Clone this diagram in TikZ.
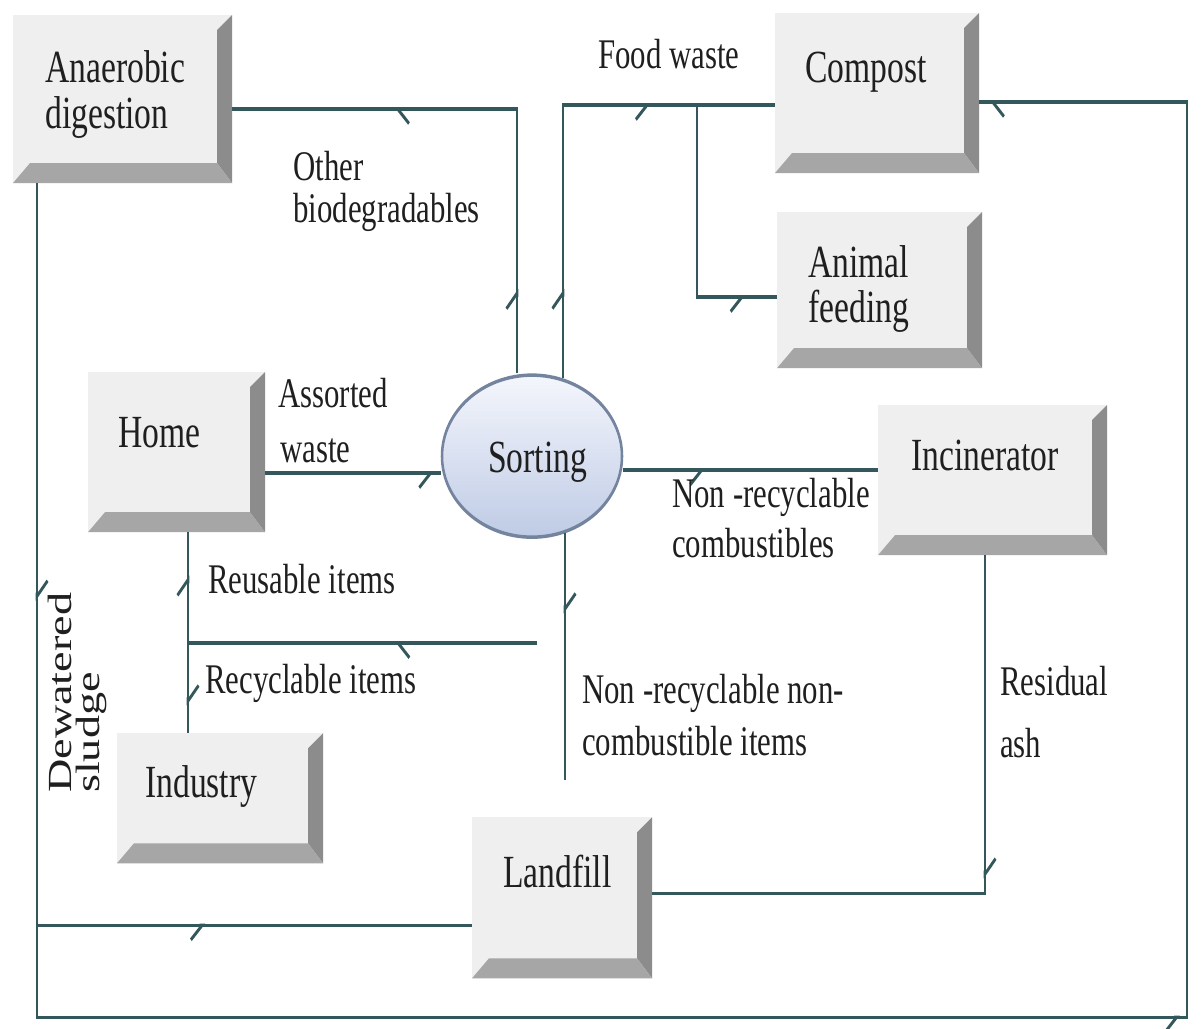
\documentclass[tikz,border=0pt]{standalone}
\usepackage{fontspec}
\setmainfont{Liberation Serif}
\usetikzlibrary{shapes.geometric,decorations.markings,arrows.meta}

\definecolor{face}{HTML}{EFEFEF}
\definecolor{bevR}{HTML}{8C8C8C}
\definecolor{bevB}{HTML}{A6A6A6}
\definecolor{conn}{HTML}{33575B}
\definecolor{ink}{HTML}{1F1F1F}
\definecolor{sortTop}{HTML}{F4F6FC}
\definecolor{sortBot}{HTML}{BFCBE5}
\definecolor{sortEdge}{HTML}{74849F}

% horizontal and vertical pixel units of the drawing
\newcommand\pxu{0.025cm}
\newcommand\pyu{0.018248cm}

\begin{document}
\begin{tikzpicture}[x=0.025cm,y=-0.025cm]
\path[use as bounding box, fill=white] (0,0) rectangle (1203,1028);

\begin{scope}[y=-0.018248cm, transform canvas={yscale=1.37},
  btn/.style={rectangle, inner sep=0pt, outer sep=0pt, fill=face,
    path picture={
      \fill[bevR] (path picture bounding box.north east)
        -- (path picture bounding box.south east)
        -- ([shift={(-15,-20)}]path picture bounding box.south east)
        -- ([shift={(-15,15)}]path picture bounding box.north east) -- cycle;
      \fill[bevB] (path picture bounding box.south west)
        -- (path picture bounding box.south east)
        -- ([shift={(-15,-20)}]path picture bounding box.south east)
        -- ([shift={(17,-20)}]path picture bounding box.south west) -- cycle;
    }},
  sortnode/.style={ellipse, draw=sortEdge, line width=1.8pt,
    top color=sortTop, bottom color=sortBot, inner sep=0pt,
    minimum width=180*\pxu, minimum height=162*\pyu},
  boxtxt/.style={font=\fontsize{23.9}{28}\selectfont, text=ink,
    inner sep=0pt, anchor=base west},
  lbl/.style={font=\fontsize{21.9}{26}\selectfont, text=ink,
    inner sep=0pt, anchor=base west},
  conn/.style={draw=conn, line width=1.8pt},
  barbA/.tip={Straight Barb[harpoon, length=8pt, width=15pt]},
  barbB/.tip={Straight Barb[harpoon, swap, length=8pt, width=15pt]},
  arrs/.style={postaction={decorate}, decoration={markings, #1}}
]

% boxes
\node[btn, minimum width=219*\pxu, minimum height=168*\pyu] (ad) at (122.5,99) {};
\node[btn, minimum width=204*\pxu, minimum height=160*\pyu] (compost) at (877,93) {};
\node[btn, minimum width=205*\pxu, minimum height=156*\pyu] (af) at (879.5,290) {};
\node[btn, minimum width=177*\pxu, minimum height=160*\pyu] (home) at (176.5,452) {};
\node[btn, minimum width=229*\pxu, minimum height=150*\pyu] (inc) at (992.5,480) {};
\node[btn, minimum width=206*\pxu, minimum height=130*\pyu] (ind) at (220,798) {};
\node[btn, minimum width=180*\pxu, minimum height=161*\pyu] (land) at (562,897.5) {};
\node[sortnode] (sort) at (532,456) {};

% box texts
\node[boxtxt] (adT1) at (45,82) {Anaerobic};
\node[boxtxt] (adT2) at (45,128) {digestion};
\node[boxtxt] (cmT) at (805,82) {Compost};
\node[boxtxt] (afT1) at (808,277) {Animal};
\node[boxtxt] (afT2) at (808,322) {feeding};
\node[boxtxt] (hmT) at (118,447) {Home};
\node[boxtxt] (inT) at (911,470) {Incinerator};
\node[boxtxt] (idT) at (145,797) {Industry};
\node[boxtxt] (lfT) at (503,887) {Landfill};
\node[boxtxt] (soT) at (488,472) {Sorting};

% junctions and free ends
\coordinate (fork) at ([xshift=-78*\pxu, yshift=-12*\pyu]compost.west);
\coordinate (rrS) at (537,643);
\coordinate (split) at (188,643);
\coordinate (nrEnd) at (565,780);
\coordinate (sj) at (37,925);
\coordinate (rc) at (1187,1017);
\coordinate (hwOut) at ([yshift=-21*\pyu]home.east);
\coordinate (incIn) at ([yshift=10*\pyu]inc.west);
\coordinate (cmpIn) at ([yshift=-9*\pyu]compost.east);

% connectors
\draw[conn, arrs={mark=at position 0.129 with {\arrow{barbA}},
                  mark=at position 0.660 with {\arrow{barbA}}}]
  ([xshift=-15*\pxu]sort.north) |- ([yshift=-10*\pyu]ad.east);
\draw[conn, arrs={mark=at position 0.159 with {\arrow{barbA}},
                  mark=at position 0.697 with {\arrow{barbB}}}]
  ([xshift=31*\pxu, yshift=-5*\pyu]sort.north) |- ([yshift=-12*\pyu]compost.west);
\draw[conn, arrs={mark=at position 0.855 with {\arrow{barbB}}}]
  (fork) |- ([yshift=-7*\pyu]af.west);
\draw[conn, arrs={mark=at position 0.96 with {\arrow{barbB}}}]
  (hwOut) -- (hwOut -| sort.west);
\draw[conn, arrs={mark=at position 0.32 with {\arrow{barbB}}}]
  (incIn -| sort.east) -- (incIn);
\draw[conn, arrs={mark=at position 0.407 with {\arrow{barbA}}}]
  (rrS) -- (split);
\draw[conn, arrs={mark=at position 0.61 with {\arrow{barbA}}}]
  (split) -- (split |- home.south);
\draw[conn, arrs={mark=at position 0.69 with {\arrow{barbA}}}]
  (split) -- (split |- ind.north);
\draw[conn, arrs={mark=at position 0.325 with {\arrow{barbA}}}]
  ([xshift=33*\pxu, yshift=6*\pyu]sort.south) -- (nrEnd);
\draw[conn, arrs={mark=at position 0.407 with {\arrow{barbA}}}]
  ([xshift=-7.5*\pxu]inc.south) |- ([yshift=4.5*\pyu]land.east);
\draw[conn, arrs={mark=at position 0.312 with {\arrow{barbA}},
                  mark=at position 0.727 with {\arrow{barbB}}}]
  (ad.south -| sj) -- (sj) -- (sj -| land.west);
\draw[conn, arrs={mark=at position 0.578 with {\arrow{barbB}},
                  mark=at position 0.995 with {\arrow{barbA}}}]
  (sj) |- (rc) |- (cmpIn);

% flow labels
\node[lbl] (l1) at (598,68) {Food waste};
\node[lbl] (l2a) at (293,180) {Other};
\node[lbl] (l2b) at (293,222) {biodegradables};
\node[lbl] (l3a) at (278,407) {Assorted};
\node[lbl] (l3b) at (280,462) {waste};
\node[lbl] (l4a) at (672,507) {Non -recyclable};
\node[lbl] (l4b) at (672,557) {combustibles};
\node[lbl] (l5) at (208,593) {Reusable items};
\node[lbl] (l6) at (205,693) {Recyclable items};
\node[lbl] (l7a) at (582,703) {Non -recyclable non-};
\node[lbl] (l7b) at (582,755) {combustible items};
\node[lbl] (l8a) at (1000,695) {Residual};
\node[lbl] (l8b) at (1000,757) {ash};
\node[lbl, rotate=90, font=\fontsize{24}{28}\selectfont] (l9a) at (71,793) {Dewatered};
\node[lbl, rotate=90, font=\fontsize{24}{28}\selectfont] (l9b) at (99,793) {sludge};

\end{scope}
\end{tikzpicture}
\end{document}
